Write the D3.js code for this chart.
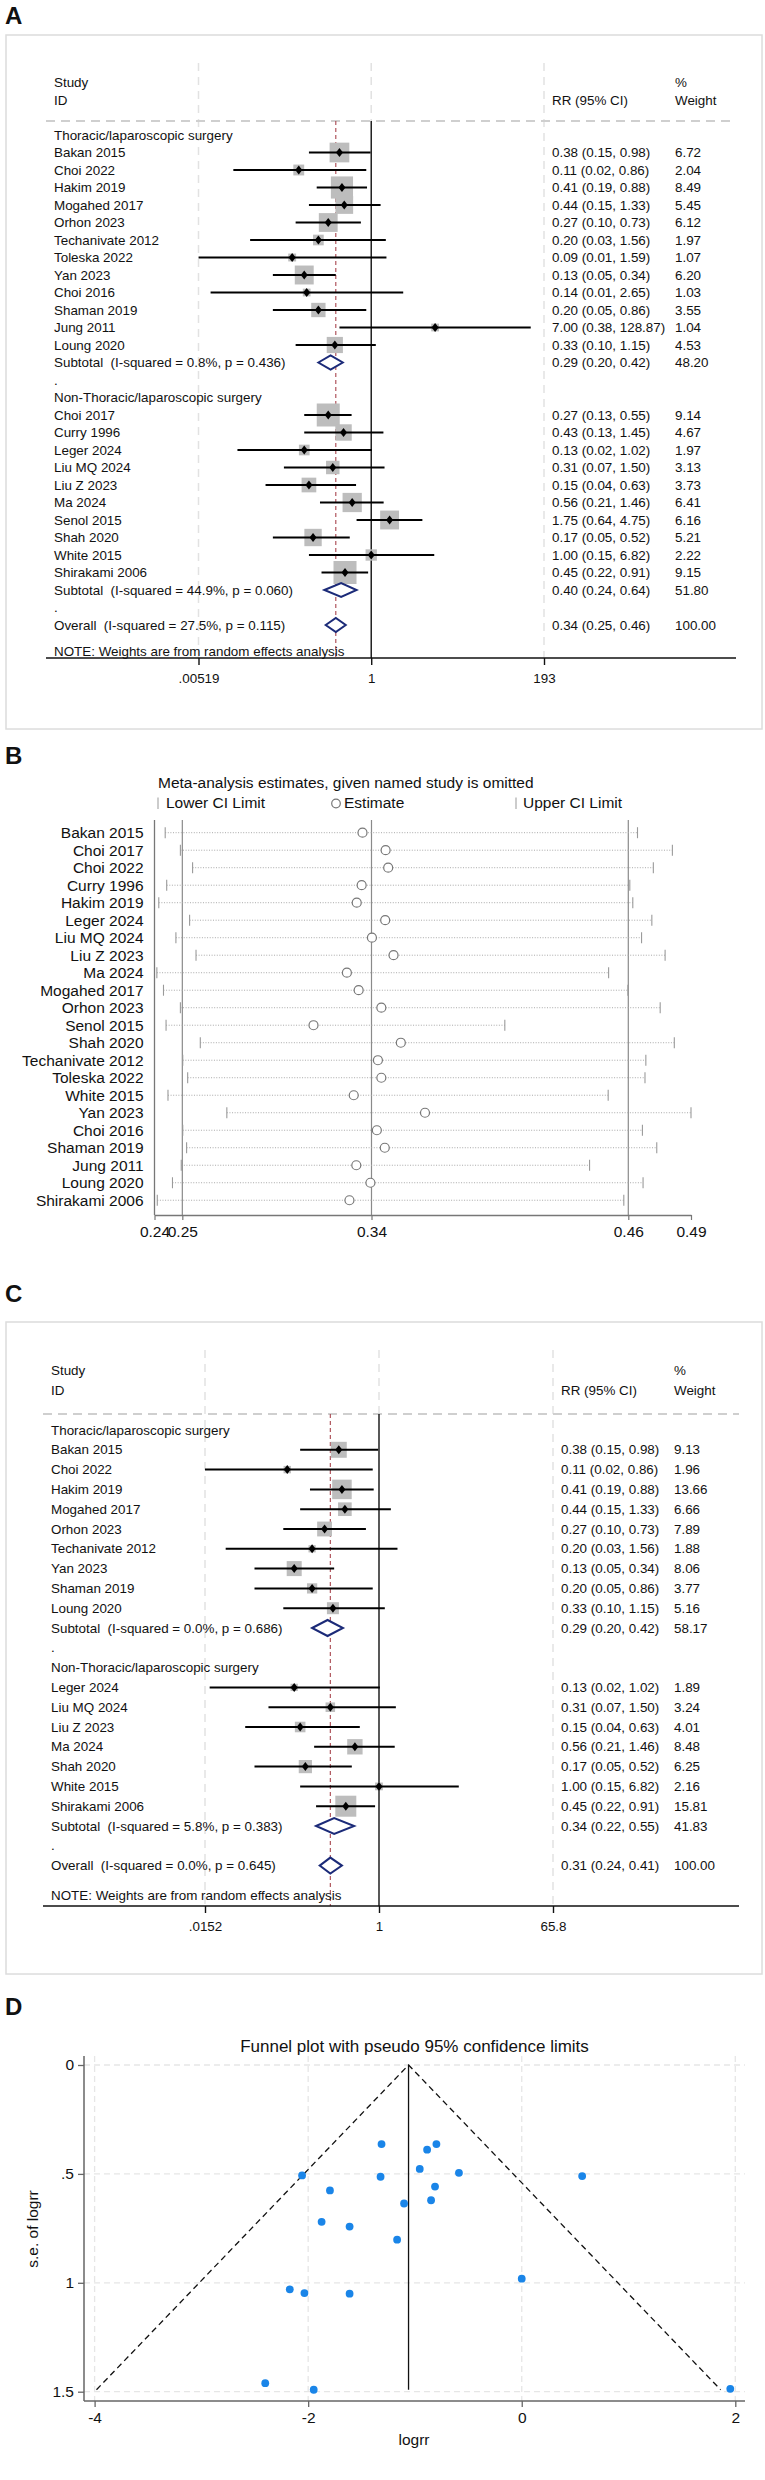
<!DOCTYPE html>
<html>
<head>
<meta charset="utf-8">
<script src="https://cdn.jsdelivr.net/npm/d3@7"></script>
<style>
  body { margin: 0; background: #fff; }
  svg { display: block; }
  text { font-family: "Liberation Sans", Arial, Helvetica, sans-serif; white-space: pre; }
</style>
</head>
<body>
<svg id="fig" width="765" height="2480"></svg>
<script>
// ---- Panel A: forest plot, all studies ----
const namesA1 = ["Bakan 2015", "Choi 2022", "Hakim 2019", "Mogahed 2017", "Orhon 2023", "Techanivate 2012", "Toleska 2022", "Yan 2023", "Choi 2016", "Shaman 2019", "Jung 2011", "Loung 2020"];
const estA1 = [0.38, 0.11, 0.41, 0.44, 0.27, 0.20, 0.09, 0.13, 0.14, 0.20, 7.00, 0.33];
const loA1 = [0.15, 0.015, 0.19, 0.15, 0.10, 0.025, 0.0052, 0.05, 0.0075, 0.05, 0.38, 0.10];
const hiA1 = [0.98, 0.86, 0.88, 1.33, 0.73, 1.56, 1.59, 0.34, 2.65, 0.86, 128.87, 1.15];
const wtA1 = [6.72, 2.04, 8.49, 5.45, 6.12, 1.97, 1.07, 6.20, 1.03, 3.55, 1.04, 4.53];
const ciA1 = ["0.38 (0.15, 0.98)", "0.11 (0.02, 0.86)", "0.41 (0.19, 0.88)", "0.44 (0.15, 1.33)", "0.27 (0.10, 0.73)", "0.20 (0.03, 1.56)", "0.09 (0.01, 1.59)", "0.13 (0.05, 0.34)", "0.14 (0.01, 2.65)", "0.20 (0.05, 0.86)", "7.00 (0.38, 128.87)", "0.33 (0.10, 1.15)"];

const namesA2 = ["Choi 2017", "Curry 1996", "Leger 2024", "Liu MQ 2024", "Liu Z 2023", "Ma 2024", "Senol 2015", "Shah 2020", "White 2015", "Shirakami 2006"];
const estA2 = [0.27, 0.43, 0.13, 0.31, 0.15, 0.56, 1.75, 0.17, 1.00, 0.45];
const loA2 = [0.13, 0.13, 0.017, 0.07, 0.04, 0.21, 0.64, 0.05, 0.15, 0.22];
const hiA2 = [0.55, 1.45, 1.02, 1.50, 0.63, 1.46, 4.75, 0.52, 6.82, 0.91];
const wtA2 = [9.14, 4.67, 1.97, 3.13, 3.73, 6.41, 6.16, 5.21, 2.22, 9.15];
const ciA2 = ["0.27 (0.13, 0.55)", "0.43 (0.13, 1.45)", "0.13 (0.02, 1.02)", "0.31 (0.07, 1.50)", "0.15 (0.04, 0.63)", "0.56 (0.21, 1.46)", "1.75 (0.64, 4.75)", "0.17 (0.05, 0.52)", "1.00 (0.15, 6.82)", "0.45 (0.22, 0.91)"];

const poolLabelsA = ["Subtotal  (I-squared = 0.8%, p = 0.436)", "Subtotal  (I-squared = 44.9%, p = 0.060)", "Overall  (I-squared = 27.5%, p = 0.115)"];
const poolEstA = [0.29, 0.40, 0.34];
const poolLoA = [0.20, 0.24, 0.25];
const poolHiA = [0.42, 0.64, 0.46];
const poolWtA = [48.20, 51.80, 100.00];
const ticksA = [0.00519, 1, 193];
const tickLabelsA = [".00519", "1", "193"];

// ---- Panel C: forest plot, sensitivity subset ----
const namesC1 = ["Bakan 2015", "Choi 2022", "Hakim 2019", "Mogahed 2017", "Orhon 2023", "Techanivate 2012", "Yan 2023", "Shaman 2019", "Loung 2020"];
const estC1 = [0.38, 0.11, 0.41, 0.44, 0.27, 0.20, 0.13, 0.20, 0.33];
const loC1 = [0.15, 0.015, 0.19, 0.15, 0.10, 0.025, 0.05, 0.05, 0.10];
const hiC1 = [0.98, 0.86, 0.88, 1.33, 0.73, 1.56, 0.34, 0.86, 1.15];
const wtC1 = [9.13, 1.96, 13.66, 6.66, 7.89, 1.88, 8.06, 3.77, 5.16];
const ciC1 = ["0.38 (0.15, 0.98)", "0.11 (0.02, 0.86)", "0.41 (0.19, 0.88)", "0.44 (0.15, 1.33)", "0.27 (0.10, 0.73)", "0.20 (0.03, 1.56)", "0.13 (0.05, 0.34)", "0.20 (0.05, 0.86)", "0.33 (0.10, 1.15)"];

const namesC2 = ["Leger 2024", "Liu MQ 2024", "Liu Z 2023", "Ma 2024", "Shah 2020", "White 2015", "Shirakami 2006"];
const estC2 = [0.13, 0.31, 0.15, 0.56, 0.17, 1.00, 0.45];
const loC2 = [0.017, 0.07, 0.04, 0.21, 0.05, 0.15, 0.22];
const hiC2 = [1.02, 1.50, 0.63, 1.46, 0.52, 6.82, 0.91];
const wtC2 = [1.89, 3.24, 4.01, 8.48, 6.25, 2.16, 15.81];
const ciC2 = ["0.13 (0.02, 1.02)", "0.31 (0.07, 1.50)", "0.15 (0.04, 0.63)", "0.56 (0.21, 1.46)", "0.17 (0.05, 0.52)", "1.00 (0.15, 6.82)", "0.45 (0.22, 0.91)"];

const poolLabelsC = ["Subtotal  (I-squared = 0.0%, p = 0.686)", "Subtotal  (I-squared = 5.8%, p = 0.383)", "Overall  (I-squared = 0.0%, p = 0.645)"];
const poolEstC = [0.29, 0.34, 0.31];
const poolLoC = [0.20, 0.22, 0.24];
const poolHiC = [0.42, 0.55, 0.41];
const poolWtC = [58.17, 41.83, 100.00];
const ticksC = [0.0152, 1, 65.8];
const tickLabelsC = [".0152", "1", "65.8"];

const groupTitles = ["Thoracic/laparoscopic surgery", "Non-Thoracic/laparoscopic surgery"];

// ---- Panel B: leave-one-out ----
const namesB = ["Bakan 2015", "Choi 2017", "Choi 2022", "Curry 1996", "Hakim 2019", "Leger 2024", "Liu MQ 2024", "Liu Z 2023", "Ma 2024", "Mogahed 2017", "Orhon 2023", "Senol 2015", "Shah 2020", "Techanivate 2012", "Toleska 2022", "White 2015", "Yan 2023", "Choi 2016", "Shaman 2019", "Jung 2011", "Loung 2020", "Shirakami 2006"];
const estB = [0.3358, 0.3466, 0.3478, 0.3354, 0.3331, 0.3464, 0.3402, 0.3503, 0.3285, 0.3340, 0.3446, 0.3129, 0.3537, 0.3430, 0.3446, 0.3317, 0.3650, 0.3425, 0.3462, 0.3329, 0.3395, 0.3297];
const loB = [0.2436, 0.2507, 0.2564, 0.2443, 0.2406, 0.2550, 0.2486, 0.2580, 0.2397, 0.2428, 0.2507, 0.2440, 0.2600, 0.2518, 0.2541, 0.2449, 0.2724, 0.2518, 0.2536, 0.2511, 0.2470, 0.2399];
const hiB = [0.4643, 0.4806, 0.4717, 0.4607, 0.4621, 0.4710, 0.4662, 0.4772, 0.4508, 0.4598, 0.4749, 0.4023, 0.4815, 0.4682, 0.4678, 0.4506, 0.4893, 0.4666, 0.4733, 0.4419, 0.4669, 0.4579];
const ticksB = [0.2386, 0.2516, 0.34, 0.46, 0.4893];
const tickLabelsB = ["0.24", "0.25", "0.34", "0.46", "0.49"];

// ---- Panel D: funnel plot ----
const logrrD = [-1.313, -0.799, -0.886, -0.955, -0.588, 0.566, -2.057, -1.322, -0.812, -1.796, -0.849, -1.102, -1.874, -1.612, -1.167, 0.0, -2.172, -2.035, -1.612, -2.402, -1.948, 1.953];
const seD = [0.363, 0.363, 0.389, 0.477, 0.495, 0.510, 0.507, 0.513, 0.558, 0.576, 0.621, 0.636, 0.720, 0.742, 0.802, 0.981, 1.030, 1.047, 1.050, 1.461, 1.491, 1.487];
const funnelCenter = -1.06;
const ticksDx = [-4, -2, 0, 2];
const ticksDy = [0, 0.5, 1, 1.5];
const tickLabelsDy = ["0", ".5", "1", "1.5"];

const svg = d3.select("#fig");
svg.append("rect").attr("width", 765).attr("height", 2480).attr("fill", "#fff");

function panelLetter(txt, y) {
  svg.append("text").attr("x", 5).attr("y", y).attr("font-size", 24).attr("font-weight", "bold").attr("fill", "#111").text(txt);
}

function forest(cfg) {
  const g = svg.append("g");
  const fs = 13.4;
  g.append("rect").attr("x", cfg.box[0]).attr("y", cfg.box[1]).attr("width", cfg.box[2] - cfg.box[0]).attr("height", cfg.box[3] - cfg.box[1])
    .attr("fill", "none").attr("stroke", "#dcdcdc").attr("stroke-width", 1.5);

  const x = d3.scaleLog().domain([cfg.ticks[0], cfg.ticks[2]]).range(cfg.range).clamp(true);
  const rowY = r => cfg.row0 + r * cfg.step;

  // build row list
  const rows = [];
  let r = 0;
  cfg.groups.forEach((grp, gi) => {
    rows.push({ type: "label", text: groupTitles[gi], r: r++ });
    grp.names.forEach((n, i) => rows.push({ type: "study", text: n, est: grp.est[i], lo: grp.lo[i], hi: grp.hi[i], w: grp.w[i], ci: grp.ci[i], r: r++ }));
    rows.push({ type: "pool", text: cfg.poolLabels[gi], est: cfg.poolEst[gi], lo: cfg.poolLo[gi], hi: cfg.poolHi[gi], w: cfg.poolWt[gi], r: r++ });
    rows.push({ type: "label", text: ".", r: r++ });
  });
  rows.push({ type: "pool", text: cfg.poolLabels[2], est: cfg.poolEst[2], lo: cfg.poolLo[2], hi: cfg.poolHi[2], w: cfg.poolWt[2], r: r });
  const noteRow = r + 1.5;

  // grey dashed verticals at tick positions
  cfg.ticks.forEach((t, i) => {
    g.append("line").attr("x1", x(t)).attr("x2", x(t)).attr("y1", cfg.gridTop).attr("y2", i === 1 ? cfg.headY : cfg.axisY)
      .attr("stroke", "#e2e2e2").attr("stroke-width", 1.5).attr("stroke-dasharray", "8,6");
  });
  // header dashed line
  g.append("line").attr("x1", cfg.axisX[0]).attr("x2", cfg.axisX[1]).attr("y1", cfg.headY).attr("y2", cfg.headY)
    .attr("stroke", "#cfcfcf").attr("stroke-width", 2).attr("stroke-dasharray", "9,6");

  // header texts
  const head = [["Study", cfg.textX, cfg.headRows[0]], ["ID", cfg.textX, cfg.headRows[1]], ["RR (95% CI)", cfg.ciX, cfg.headRows[1]], ["%", cfg.wX, cfg.headRows[0]], ["Weight", cfg.wX, cfg.headRows[1]]];
  g.selectAll(".hd").data(head).enter().append("text").attr("x", d => d[0] === "%" ? d[1] : d[1]).attr("y", d => d[2]).attr("dy", "0.35em")
    .attr("font-size", fs).attr("fill", "#111").text(d => d[0]);

  // null line and overall dashed line
  g.append("line").attr("x1", x(1)).attr("x2", x(1)).attr("y1", cfg.headY).attr("y2", cfg.axisY).attr("stroke", "#111").attr("stroke-width", 1.4);
  const overall = rows[rows.length - 1];
  g.append("line").attr("x1", x(overall.est)).attr("x2", x(overall.est)).attr("y1", cfg.headY).attr("y2", cfg.axisY)
    .attr("stroke", "#a8454e").attr("stroke-width", 1.1).attr("stroke-dasharray", "4,3");

  const maxW = d3.max(rows.filter(d => d.type === "study"), d => d.w);
  const side = w => cfg.maxSide * Math.sqrt(w / maxW);

  const studies = rows.filter(d => d.type === "study");
  g.selectAll(".bx").data(studies).enter().append("rect")
    .attr("x", d => x(d.est) - side(d.w) / 2).attr("y", d => rowY(d.r) - side(d.w) / 2)
    .attr("width", d => side(d.w)).attr("height", d => side(d.w)).attr("fill", "#bdbdbd");
  g.selectAll(".ci").data(studies).enter().append("line")
    .attr("x1", d => x(d.lo)).attr("x2", d => x(d.hi)).attr("y1", d => rowY(d.r)).attr("y2", d => rowY(d.r))
    .attr("stroke", "#000").attr("stroke-width", 2);
  g.selectAll(".pt").data(studies).enter().append("path")
    .attr("d", d => { const cx = x(d.est), cy = rowY(d.r); return `M${cx - 3.5},${cy}L${cx},${cy - 4.5}L${cx + 3.5},${cy}L${cx},${cy + 4.5}Z`; })
    .attr("fill", "#000");

  const pools = rows.filter(d => d.type === "pool");
  g.selectAll(".dm").data(pools).enter().append("path")
    .attr("d", d => { const cy = rowY(d.r), h = cfg.diamondH; return `M${x(d.lo)},${cy}L${x(d.est)},${cy - h}L${x(d.hi)},${cy}L${x(d.est)},${cy + h}Z`; })
    .attr("fill", "#fff").attr("stroke", "#1b2a78").attr("stroke-width", 2);

  // left labels
  g.selectAll(".lb").data(rows).enter().append("text").attr("x", cfg.textX).attr("y", d => rowY(d.r)).attr("dy", "0.35em")
    .attr("font-size", fs).attr("fill", "#111").text(d => d.text);
  // CI and weight columns
  const valued = rows.filter(d => d.type !== "label");
  g.selectAll(".ct").data(valued).enter().append("text").attr("x", cfg.ciX).attr("y", d => rowY(d.r)).attr("dy", "0.35em")
    .attr("font-size", fs).attr("fill", "#111")
    .text(d => d.ci || `${d.est.toFixed(2)} (${d.lo.toFixed(2)}, ${d.hi.toFixed(2)})`);
  g.selectAll(".wt").data(valued).enter().append("text").attr("x", cfg.wX).attr("y", d => rowY(d.r)).attr("dy", "0.35em")
    .attr("font-size", fs).attr("fill", "#111").text(d => d.w.toFixed(2));

  g.append("text").attr("x", cfg.textX).attr("y", rowY(noteRow)).attr("dy", "0.35em").attr("font-size", fs).attr("fill", "#111")
    .text("NOTE: Weights are from random effects analysis");

  // x axis
  g.append("line").attr("x1", cfg.axisX[0]).attr("x2", cfg.axisX[1]).attr("y1", cfg.axisY).attr("y2", cfg.axisY).attr("stroke", "#111").attr("stroke-width", 1.5);
  const axis = d3.axisBottom(x).tickValues(cfg.ticks).tickFormat((d, i) => cfg.tickLabels[i]).tickSize(7).tickPadding(8);
  const ag = g.append("g").attr("transform", `translate(0,${cfg.axisY})`).call(axis);
  ag.select(".domain").remove();
  ag.selectAll(".tick line").attr("stroke", "#111").attr("stroke-width", 1.4);
  ag.selectAll(".tick text").attr("font-size", fs).attr("fill", "#111").attr("font-family", null);
}

// Panel A
panelLetter("A", 24);
forest({
  box: [6, 35, 762, 729], range: [198.5, 544], ticks: ticksA, tickLabels: tickLabelsA,
  gridTop: 63, headY: 121, headRows: [82, 100], row0: 135, step: 17.5, axisY: 658, axisX: [46, 736],
  textX: 54, ciX: 552, wX: 675, maxSide: 23, diamondH: 7,
  groups: [
    { names: namesA1, est: estA1, lo: loA1, hi: hiA1, w: wtA1, ci: ciA1 },
    { names: namesA2, est: estA2, lo: loA2, hi: hiA2, w: wtA2, ci: ciA2 }
  ],
  poolLabels: poolLabelsA, poolEst: poolEstA, poolLo: poolLoA, poolHi: poolHiA, poolWt: poolWtA
});

// Panel B
panelLetter("B", 764);
(function () {
  const g = svg.append("g");
  const fs = 15.5;
  const top = 820, bottom = 1215;
  const x = d3.scaleLinear().domain([ticksB[0], ticksB[4]]).range([154.5, 691]);
  const y = d3.scaleBand().domain(namesB).range([823.95, 1209.0]);
  const cy = n => y(n) + y.bandwidth() / 2;

  g.append("text").attr("x", 158).attr("y", 783).attr("dy", "0.35em").attr("font-size", fs).attr("fill", "#111")
    .text("Meta-analysis estimates, given named study is omitted");
  // legend
  const leg = [{ k: "bar", x: 158, t: "Lower CI Limit", tx: 166 }, { k: "circ", x: 336, t: "Estimate", tx: 344 }, { k: "bar", x: 516, t: "Upper CI Limit", tx: 523 }];
  leg.forEach(l => {
    if (l.k === "bar") g.append("line").attr("x1", l.x).attr("x2", l.x).attr("y1", 797.5).attr("y2", 809).attr("stroke", "#999").attr("stroke-width", 1);
    else g.append("circle").attr("cx", l.x).attr("cy", 803.5).attr("r", 4.3).attr("fill", "#fff").attr("stroke", "#777").attr("stroke-width", 1.2);
    g.append("text").attr("x", l.tx).attr("y", 803).attr("dy", "0.35em").attr("font-size", fs).attr("fill", "#111").text(l.t);
  });

  // reference lines
  ticksB.slice(1, 4).forEach(t => {
    g.append("line").attr("x1", x(t)).attr("x2", x(t)).attr("y1", top).attr("y2", bottom).attr("stroke", "#8a8a8a").attr("stroke-width", 1.2);
  });
  g.append("line").attr("x1", 154.5).attr("x2", 154.5).attr("y1", top).attr("y2", bottom).attr("stroke", "#777").attr("stroke-width", 1.3);

  const rows = namesB.map((n, i) => ({ n, est: estB[i], lo: loB[i], hi: hiB[i] }));
  g.selectAll(".dl").data(rows).enter().append("line")
    .attr("x1", d => x(d.lo)).attr("x2", d => x(d.hi)).attr("y1", d => cy(d.n)).attr("y2", d => cy(d.n))
    .attr("stroke", "#a9a9a9").attr("stroke-width", 1).attr("stroke-dasharray", "1,1.6");
  ["lo", "hi"].forEach(k => {
    g.selectAll(".cap" + k).data(rows).enter().append("line")
      .attr("x1", d => x(d[k])).attr("x2", d => x(d[k])).attr("y1", d => cy(d.n) - 5.5).attr("y2", d => cy(d.n) + 5.5)
      .attr("stroke", "#9a9a9a").attr("stroke-width", 1.1);
  });
  g.selectAll(".es").data(rows).enter().append("circle")
    .attr("cx", d => x(d.est)).attr("cy", d => cy(d.n)).attr("r", 4.5)
    .attr("fill", "#fff").attr("stroke", "#777").attr("stroke-width", 1.2);

  g.selectAll(".nm").data(rows).enter().append("text").attr("x", 143.6).attr("y", d => cy(d.n)).attr("dy", "0.35em")
    .attr("text-anchor", "end").attr("font-size", fs).attr("fill", "#111").text(d => d.n);

  const axis = d3.axisBottom(x).tickValues(ticksB).tickFormat((d, i) => tickLabelsB[i]).tickSize(5).tickPadding(6).tickSizeOuter(0);
  const ag = g.append("g").attr("transform", `translate(0,${bottom})`).call(axis);
  ag.select(".domain").attr("stroke", "#777").attr("stroke-width", 1.3);
  ag.selectAll(".tick line").attr("stroke", "#777").attr("stroke-width", 1.2);
  ag.selectAll(".tick text").attr("font-size", fs).attr("fill", "#111").attr("font-family", null);
})();

// Panel C
panelLetter("C", 1302);
forest({
  box: [6, 1322, 762, 1974], range: [205, 553], ticks: ticksC, tickLabels: tickLabelsC,
  gridTop: 1350, headY: 1414, headRows: [1370, 1390], row0: 1430, step: 19.8, axisY: 1906, axisX: [43, 739],
  textX: 51, ciX: 561, wX: 674, maxSide: 21, diamondH: 8,
  groups: [
    { names: namesC1, est: estC1, lo: loC1, hi: hiC1, w: wtC1, ci: ciC1 },
    { names: namesC2, est: estC2, lo: loC2, hi: hiC2, w: wtC2, ci: ciC2 }
  ],
  poolLabels: poolLabelsC, poolEst: poolEstC, poolLo: poolLoC, poolHi: poolHiC, poolWt: poolWtC
});

// Panel D
panelLetter("D", 2015);
(function () {
  const g = svg.append("g");
  const fs = 15.5;
  const x = d3.scaleLinear().domain([-4, 2]).range([94.6, 735.3]);
  const y = d3.scaleLinear().domain([0, 1.5]).range([2065, 2391.7]);
  const left = 84, right = 745, top = 2056, bottom = 2401;

  g.append("text").attr("x", (left + right) / 2).attr("y", 2046).attr("dy", "0.35em").attr("text-anchor", "middle")
    .attr("font-size", 17).attr("fill", "#111").text("Funnel plot with pseudo 95% confidence limits");

  // grid
  ticksDy.forEach(t => g.append("line").attr("x1", left).attr("x2", right).attr("y1", y(t)).attr("y2", y(t))
    .attr("stroke", "#e6e6e6").attr("stroke-width", 1.3).attr("stroke-dasharray", "6,4"));
  ticksDx.forEach(t => g.append("line").attr("x1", x(t)).attr("x2", x(t)).attr("y1", top).attr("y2", bottom)
    .attr("stroke", "#e6e6e6").attr("stroke-width", 1.3).attr("stroke-dasharray", "6,4"));

  // pseudo confidence limits
  const seMax = d3.max(seD);
  const funnel = d3.line().x(d => x(d[0])).y(d => y(d[1]));
  g.append("path").attr("d", funnel([[funnelCenter - 1.96 * seMax, seMax], [funnelCenter, 0], [funnelCenter + 1.96 * seMax, seMax]]))
    .attr("fill", "none").attr("stroke", "#111").attr("stroke-width", 1.3).attr("stroke-dasharray", "6,4");
  g.append("path").attr("d", funnel([[funnelCenter, 0], [funnelCenter, seMax]])).attr("stroke", "#111").attr("stroke-width", 1.3);

  g.selectAll(".pt").data(logrrD).enter().append("circle")
    .attr("cx", d => x(d)).attr("cy", (d, i) => y(seD[i])).attr("r", 3.9).attr("fill", "#1a85e8");

  // axes
  const ax = d3.axisBottom(x).tickValues(ticksDx).tickSize(6).tickPadding(5).tickSizeOuter(0);
  const axg = g.append("g").attr("transform", `translate(0,${bottom})`).call(ax);
  axg.select(".domain").attr("d", `M${left},0H${right}`).attr("stroke", "#666").attr("stroke-width", 1.5);
  axg.selectAll(".tick line").attr("stroke", "#666").attr("stroke-width", 1.3);
  axg.selectAll(".tick text").attr("font-size", fs).attr("fill", "#111").attr("font-family", null).text(d => d < 0 ? "-" + Math.abs(d) : d);

  const ay = d3.axisLeft(y).tickValues(ticksDy).tickFormat((d, i) => tickLabelsDy[i]).tickSize(6).tickPadding(4).tickSizeOuter(0);
  const ayg = g.append("g").attr("transform", `translate(${left},0)`).call(ay);
  ayg.select(".domain").attr("d", `M0,${top}V${bottom}`).attr("stroke", "#666").attr("stroke-width", 1.5);
  ayg.selectAll(".tick line").attr("stroke", "#666").attr("stroke-width", 1.3);
  ayg.selectAll(".tick text").attr("font-size", fs).attr("fill", "#111").attr("font-family", null);

  g.append("text").attr("x", 414).attr("y", 2440).attr("dy", "0.35em").attr("text-anchor", "middle").attr("font-size", fs).attr("fill", "#111").text("logrr");
  g.append("text").attr("transform", "translate(33,2229) rotate(-90)").attr("dy", "0.35em").attr("text-anchor", "middle")
    .attr("font-size", fs).attr("fill", "#111").text("s.e. of logrr");
})();
</script>
</body>
</html>
